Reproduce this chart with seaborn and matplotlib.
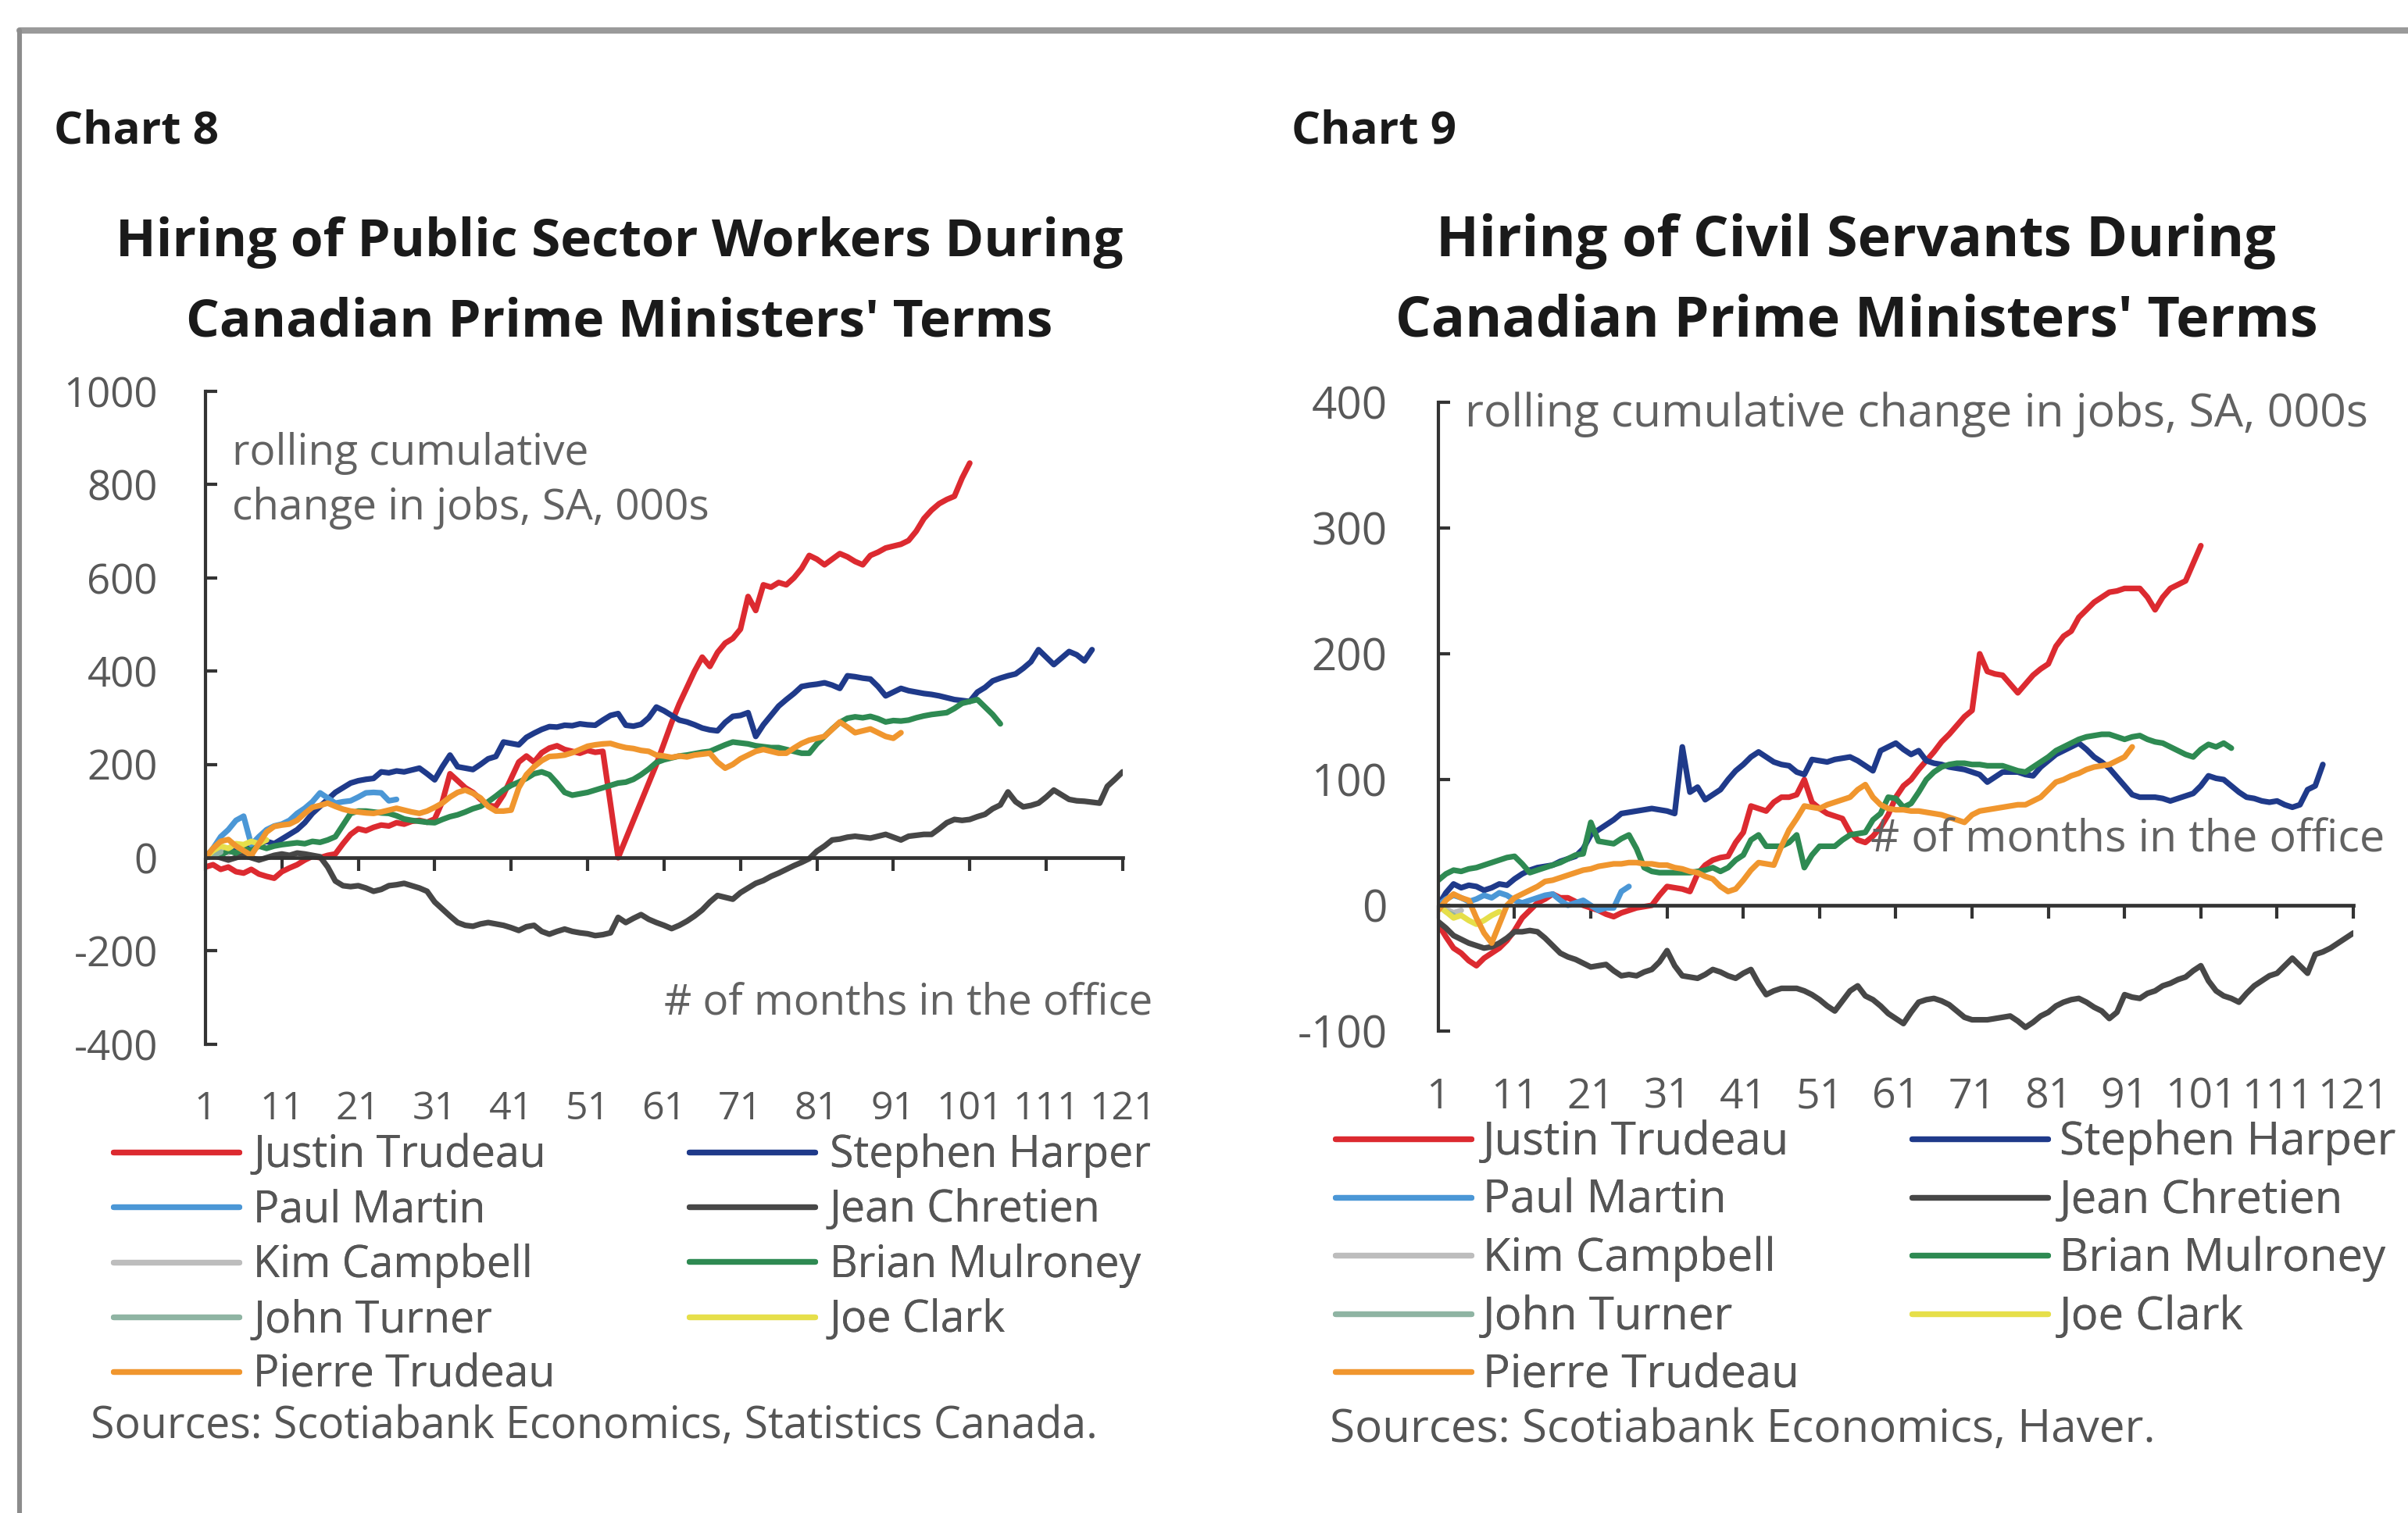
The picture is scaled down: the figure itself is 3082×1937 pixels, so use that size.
import matplotlib
matplotlib.use("Agg")
import matplotlib.pyplot as plt
from matplotlib.lines import Line2D
import numpy as np
import pandas as pd
import seaborn as sns

# ---------------------------------------------------------------------------
# Series names, colours and month axis
# ---------------------------------------------------------------------------
prime_ministers = ["Justin Trudeau", "Stephen Harper", "Paul Martin", "Jean Chretien",
                   "Kim Campbell", "Brian Mulroney", "John Turner", "Joe Clark",
                   "Pierre Trudeau"]
pm_colors = ["#dc2a30", "#1f3a8a", "#4b97d6", "#474747", "#bdbdbd",
             "#2e8a52", "#8fb4a3", "#e6df4a", "#f0962e"]
month_ticks = list(range(1, 122, 10))

# ---------------------------------------------------------------------------
# Chart 8: public sector workers, rolling cumulative change in jobs (000s)
# one value per month in office, starting at month 1
# ---------------------------------------------------------------------------
pub_justin_trudeau = [
    -20, -15, -25, -20, -30, -33, -25, -35, -40, -44,
    -30, -22, -15, -5, 3, 0, 5, 8, 30, 50,
    62, 58, 65, 70, 68, 75, 72, 78, 80, 76,
    83, 120, 180, 165, 150, 140, 125, 112, 110, 135,
    170, 205, 218, 205, 225, 235, 240, 232, 228, 224,
    230, 226, 228, 115, 0, 40, 80, 120, 160, 200,
    245, 290, 330, 365, 400, 430, 410, 440, 460, 470,
    490, 560, 530, 585, 580, 590, 585, 600, 620, 648,
    640, 628, 640, 652, 645, 635, 628, 648, 655, 664,
    668, 672, 680, 700, 727, 745, 759, 768, 775, 814,
    846]
pub_stephen_harper = [
    0, 10, 5, 20, 15, 25, 20, 30, 35, 30,
    40, 50, 60, 75, 95, 110, 125, 140, 150, 160,
    165, 168, 170, 184, 182, 186, 184, 188, 192, 180,
    167, 195, 220, 195, 192, 189, 200, 212, 217, 248,
    245, 242, 258, 267, 275, 281, 280, 284, 283, 287,
    285, 284, 295, 305, 309, 284, 282, 286, 300, 323,
    315, 305, 295, 291, 285, 278, 274, 272, 290, 303,
    305, 311, 260, 285, 305, 325, 339, 352, 367, 370,
    372, 375, 370, 363, 390, 388, 385, 383, 367, 347,
    355, 363, 358, 355, 352, 350, 347, 343, 339, 337,
    335, 355, 365, 379, 385, 390, 394, 406, 420, 446,
    430, 414, 428, 442, 435, 422, 446]
pub_paul_martin = [
    0, 20, 45, 60, 80, 89, 28, 45, 60, 68,
    72, 80, 95, 106, 120, 139, 128, 117, 120, 122,
    130, 139, 140, 139, 122, 125]
pub_jean_chretien = [
    0, 5, 0, -5, 0, 5, 0, -5, 0, 5,
    8, 5, 10, 8, 5, 2, -20, -50, -60, -62,
    -60, -65, -72, -68, -60, -58, -55, -60, -65, -72,
    -95, -110, -125, -139, -145, -147, -142, -139, -142, -145,
    -150, -156, -148, -145, -158, -164, -158, -153, -158, -161,
    -163, -167, -165, -161, -128, -139, -130, -122, -132, -139,
    -145, -152, -145, -136, -125, -112, -95, -81, -85, -89,
    -75, -65, -55, -49, -40, -33, -25, -17, -10, -2,
    14, 25, 38, 40, 44, 46, 44, 42, 46, 50,
    44, 38, 46, 48, 50, 50, 62, 75, 82, 80,
    82, 88, 93, 105, 113, 141, 120, 109, 112, 117,
    130, 145, 135, 125, 122, 121, 119, 117, 153, 168, 184]
pub_kim_campbell = [0, 8, 15, 10]
pub_brian_mulroney = [
    0, 10, 5, 15, 10, 20, 15, 25, 20, 25,
    28, 30, 32, 30, 35, 33, 38, 45, 70, 95,
    100, 100, 98, 96, 95, 90, 83, 80, 78, 76,
    75, 82, 88, 92, 98, 105, 110, 120, 132, 145,
    155, 162, 170, 180, 184, 178, 160, 140, 134, 137,
    140, 145, 150, 155, 160, 162, 168, 178, 190, 204,
    210, 214, 218, 220, 223, 226, 228, 235, 242, 248,
    246, 244, 240, 238, 236, 236, 232, 228, 224, 224,
    244, 260, 276, 290, 299, 302, 300, 303, 298, 291,
    294, 293, 295, 300, 304, 307, 309, 311, 320, 331,
    335, 339, 323, 307, 287]
pub_john_turner = [0, 5, 12]
pub_joe_clark = [0, 15, 25, 20, 30, 28, 35, 30, 38]
pub_pierre_trudeau = [
    0, 20, 35, 39, 25, 15, 5, 30, 55, 67,
    70, 72, 80, 95, 108, 112, 117, 110, 104, 100,
    98, 96, 95, 98, 102, 106, 102, 98, 95, 100,
    108, 117, 130, 140, 145, 138, 128, 110, 100, 100,
    102, 150, 178, 195, 208, 217, 218, 220, 225, 232,
    239, 242, 244, 245, 240, 236, 234, 230, 228, 220,
    218, 215, 218, 216, 220, 222, 224, 205, 192, 200,
    212, 220, 228, 232, 228, 224, 224, 235, 245, 252,
    256, 260, 275, 291, 280, 268, 272, 276, 268, 260,
    256, 268]

# ---------------------------------------------------------------------------
# Chart 9: civil servants, rolling cumulative change in jobs (000s)
# ---------------------------------------------------------------------------
civ_justin_trudeau = [
    -15, -25, -34, -38, -44, -48, -42, -38, -34, -28,
    -20, -10, -4, 2, 5, 9, 6, 6, 3, 0,
    -2, -4, -7, -9, -6, -4, -2, -1, 0, 8,
    15, 14, 13, 11, 25, 32, 36, 38, 39, 50,
    58, 79, 77, 75, 82, 86, 86, 88, 100, 82,
    77, 73, 71, 69, 58, 52, 50, 55, 62, 72,
    86, 95, 100, 108, 115, 122, 130, 136, 143, 150,
    155, 200, 186, 184, 183, 176, 169, 176, 183, 188,
    192, 206, 214, 218, 229, 235, 241, 245, 249, 250,
    252, 252, 252, 245, 235, 245, 252, 255, 258, 272,
    286]
civ_stephen_harper = [
    0, 10, 17, 14, 16, 15, 12, 14, 17, 16,
    21, 25, 28, 30, 31, 32, 35, 37, 39, 45,
    56, 60, 64, 68, 73, 74, 75, 76, 77, 76,
    75, 73, 126, 90, 94, 84, 88, 92, 100, 107,
    112, 118, 122, 118, 114, 112, 111, 106, 104, 116,
    115, 114, 116, 117, 118, 115, 111, 107, 123, 126,
    129, 124, 120, 123, 115, 113, 112, 110, 109, 108,
    106, 104, 98, 102, 106, 106, 106, 104, 103, 110,
    115, 120, 123, 126, 129, 124, 118, 114, 109, 102,
    95, 88, 86, 86, 86, 85, 83, 85, 87, 89,
    95, 103, 101, 100, 95, 90, 86, 85, 83, 82,
    83, 80, 78, 80, 92, 95, 112]
civ_paul_martin = [
    0, 5, 8, 6, 3, 5, 8, 6, 10, 8,
    4, 2, 4, 6, 8, 9, 4, 0, 2, 4,
    0, -4, -2, -2, 11, 15]
civ_jean_chretien = [
    -13, -18, -24, -27, -30, -32, -34, -33, -30, -26,
    -21, -21, -20, -21, -26, -32, -38, -41, -43, -46,
    -49, -48, -47, -52, -56, -55, -56, -53, -51, -45,
    -36, -48, -56, -57, -58, -55, -51, -53, -56, -58,
    -54, -51, -62, -71, -68, -66, -66, -66, -68, -71,
    -75, -80, -84, -76, -68, -64, -72, -75, -80, -86,
    -90, -94, -85, -77, -75, -74, -76, -79, -84, -89,
    -91, -91, -91, -90, -89, -88, -92, -97, -93, -88,
    -85, -80, -77, -75, -74, -77, -81, -84, -90, -85,
    -71, -73, -74, -70, -68, -64, -62, -59, -57, -52,
    -48, -60, -68, -72, -74, -77, -70, -64, -60, -56,
    -54, -48, -42, -48, -54, -39, -37, -34, -30, -26, -22]
civ_kim_campbell = [0, -3, -6, -4]
civ_brian_mulroney = [
    20, 25, 28, 27, 29, 30, 32, 34, 36, 38,
    39, 33, 26, 28, 30, 32, 34, 37, 40, 41,
    66, 51, 50, 49, 53, 56, 45, 30, 27, 26,
    26, 26, 26, 26, 27, 28, 30, 27, 30, 36,
    40, 52, 56, 47, 47, 47, 50, 56, 30, 40,
    47, 47, 47, 52, 56, 57, 58, 68, 73, 86,
    85, 78, 81, 90, 100, 106, 110, 112, 113, 113,
    112, 112, 111, 111, 111, 109, 107, 106, 110, 114,
    118, 123, 126, 129, 132, 134, 135, 136, 136, 134,
    132, 134, 135, 132, 130, 129, 126, 123, 120, 118,
    124, 128, 126, 129, 125]
civ_john_turner = [0, -5, -8]
civ_joe_clark = [0, -5, -10, -8, -12, -15, -12, -8, -5]
civ_pierre_trudeau = [
    -4, 4, 9, 6, 4, -10, -22, -30, -15, 0,
    6, 9, 12, 15, 19, 20, 22, 24, 26, 28,
    29, 31, 32, 33, 33, 34, 34, 33, 33, 32,
    32, 30, 29, 27, 26, 23, 21, 15, 11, 13,
    20, 28, 34, 33, 32, 47, 60, 69, 79, 78,
    77, 80, 82, 84, 86, 92, 96, 86, 80, 77,
    76, 76, 75, 75, 74, 73, 72, 70, 68, 66,
    72, 75, 76, 77, 78, 79, 80, 80, 83, 86,
    92, 98, 100, 103, 105, 108, 110, 111, 112, 115,
    118, 126]

public_series = [pub_justin_trudeau, pub_stephen_harper, pub_paul_martin,
                 pub_jean_chretien, pub_kim_campbell, pub_brian_mulroney,
                 pub_john_turner, pub_joe_clark, pub_pierre_trudeau]
civil_series = [civ_justin_trudeau, civ_stephen_harper, civ_paul_martin,
                civ_jean_chretien, civ_kim_campbell, civ_brian_mulroney,
                civ_john_turner, civ_joe_clark, civ_pierre_trudeau]


def to_long(series):
    frames = []
    for name, values in zip(prime_ministers, series):
        frames.append(pd.DataFrame({"pm": name,
                                    "month": np.arange(1, len(values) + 1),
                                    "jobs": values}))
    return pd.concat(frames, ignore_index=True)


# ---------------------------------------------------------------------------
# Styling
# ---------------------------------------------------------------------------
sns.set_theme(style="white")
plt.rcParams["font.family"] = ["Open Sans", "DejaVu Sans"]
plt.rcParams["axes.unicode_minus"] = False

AXIS_COLOR = "#333333"
TICK_TEXT = "#585858"
NOTE_TEXT = "#626262"
LEGEND_TEXT = "#555555"

fig = plt.figure(figsize=(15.41, 9.685), dpi=200)
fig.patch.set_facecolor("white")


def draw_panel(ax, df, ylim, yticks, scale, xpad):
    sns.lineplot(data=df, x="month", y="jobs", hue="pm", hue_order=prime_ministers,
                 palette=pm_colors, linewidth=2.6, legend=False, estimator=None,
                 sort=False, ax=ax)
    ax.set_xlim(1, 121)
    ax.set_ylim(*ylim)
    ax.set_yticks(yticks)
    ax.set_xticks(month_ticks)
    ax.set_xlabel("")
    ax.set_ylabel("")
    ax.grid(False)
    ax.set_facecolor("none")
    for side in ("top", "right"):
        ax.spines[side].set_visible(False)
    ax.spines["left"].set_color(AXIS_COLOR)
    ax.spines["left"].set_linewidth(1.5)
    # horizontal axis line sits at zero, labels stay at the bottom
    ax.spines["bottom"].set_position(("data", 0))
    ax.spines["bottom"].set_color(AXIS_COLOR)
    ax.spines["bottom"].set_linewidth(1.7)
    ax.tick_params(axis="y", direction="in", length=5.5, width=1.5, color=AXIS_COLOR,
                   pad=22 * scale, labelsize=19 * scale, labelcolor=TICK_TEXT, left=True)
    ax.tick_params(axis="x", direction="out", length=6, width=1.5, color=AXIS_COLOR,
                   labelbottom=False, bottom=True)
    sec = ax.secondary_xaxis("bottom")
    sec.set_xticks(month_ticks)
    sec.tick_params(length=0, pad=xpad, labelsize=18 * scale, labelcolor=TICK_TEXT)
    sec.spines["bottom"].set_visible(False)


def add_legend(x_cols, y_top, size, handlelength, textpad, labelspacing):
    handles = [Line2D([], [], color=c, lw=2.6) for c in pm_colors]
    for k, x in enumerate(x_cols):
        idx = list(range(k, len(prime_ministers), 2))
        leg = fig.legend([handles[i] for i in idx], [prime_ministers[i] for i in idx],
                         loc="upper left", bbox_to_anchor=(x, y_top),
                         bbox_transform=fig.transFigure, frameon=False,
                         borderpad=0, borderaxespad=0, handlelength=handlelength,
                         handletextpad=textpad, labelspacing=labelspacing,
                         prop={"size": size}, labelcolor=LEGEND_TEXT)
        fig.add_artist(leg)


# ---- Chart 8 ----
ax1 = fig.add_axes([0.0853, 0.3098, 0.3809, 0.4316])
draw_panel(ax1, to_long(public_series), (-400, 1000), range(-400, 1001, 200), 1.0, 21)

# ---- Chart 9 ----
ax2 = fig.add_axes([0.5973, 0.3185, 0.3800, 0.4156])
draw_panel(ax2, to_long(civil_series), (-100, 400), range(-100, 401, 100), 1.07, 21)

# headings
fig.text(0.0224, 0.9055, "Chart 8", fontsize=21, fontweight="bold", color="#1a1a1a")
fig.text(0.5363, 0.9055, "Chart 9", fontsize=21, fontweight="bold", color="#1a1a1a")
fig.text(0.2573, 0.8307, "Hiring of Public Sector Workers During", ha="center",
         fontsize=24.3, fontweight="bold", color="#1a1a1a")
fig.text(0.2573, 0.7780, "Canadian Prime Ministers' Terms", ha="center",
         fontsize=24.3, fontweight="bold", color="#1a1a1a")
fig.text(0.7709, 0.8307, "Hiring of Civil Servants During", ha="center",
         fontsize=25.9, fontweight="bold", color="#1a1a1a")
fig.text(0.7709, 0.7780, "Canadian Prime Ministers' Terms", ha="center",
         fontsize=25.9, fontweight="bold", color="#1a1a1a")

# in-plot notes
fig.text(0.0964, 0.6928, "rolling cumulative", fontsize=19.8, color=NOTE_TEXT)
fig.text(0.0964, 0.6567, "change in jobs, SA, 000s", fontsize=19.8, color=NOTE_TEXT)
fig.text(0.2758, 0.3294, "# of months in the office", fontsize=19.7, color=NOTE_TEXT)
fig.text(0.6084, 0.7181, "rolling cumulative change in jobs, SA, 000s", fontsize=21.2,
         color=NOTE_TEXT)
fig.text(0.7768, 0.4368, "# of months in the office", fontsize=20.7, color=NOTE_TEXT)

# legends
add_legend([0.0470, 0.2862], 0.2509, 20.0, 2.9, 0.33, 0.24)
add_legend([0.5545, 0.7940], 0.2597, 20.9, 3.0, 0.25, 0.275)

# sources
fig.text(0.0376, 0.0496, "Sources: Scotiabank Economics, Statistics Canada.",
         fontsize=20, color=LEGEND_TEXT)
fig.text(0.5522, 0.0470, "Sources: Scotiabank Economics, Haver.",
         fontsize=21, color=LEGEND_TEXT)

# page frame
fig.add_artist(Line2D([0.0081, 1.0], [0.9799, 0.9799], transform=fig.transFigure,
                      color="#9a9a9a", lw=2.9))
fig.add_artist(Line2D([0.0081, 0.0081], [0.0, 0.9799], transform=fig.transFigure,
                      color="#8c8c8c", lw=2.2))

fig.savefig("out.png", dpi=200, facecolor="white")
